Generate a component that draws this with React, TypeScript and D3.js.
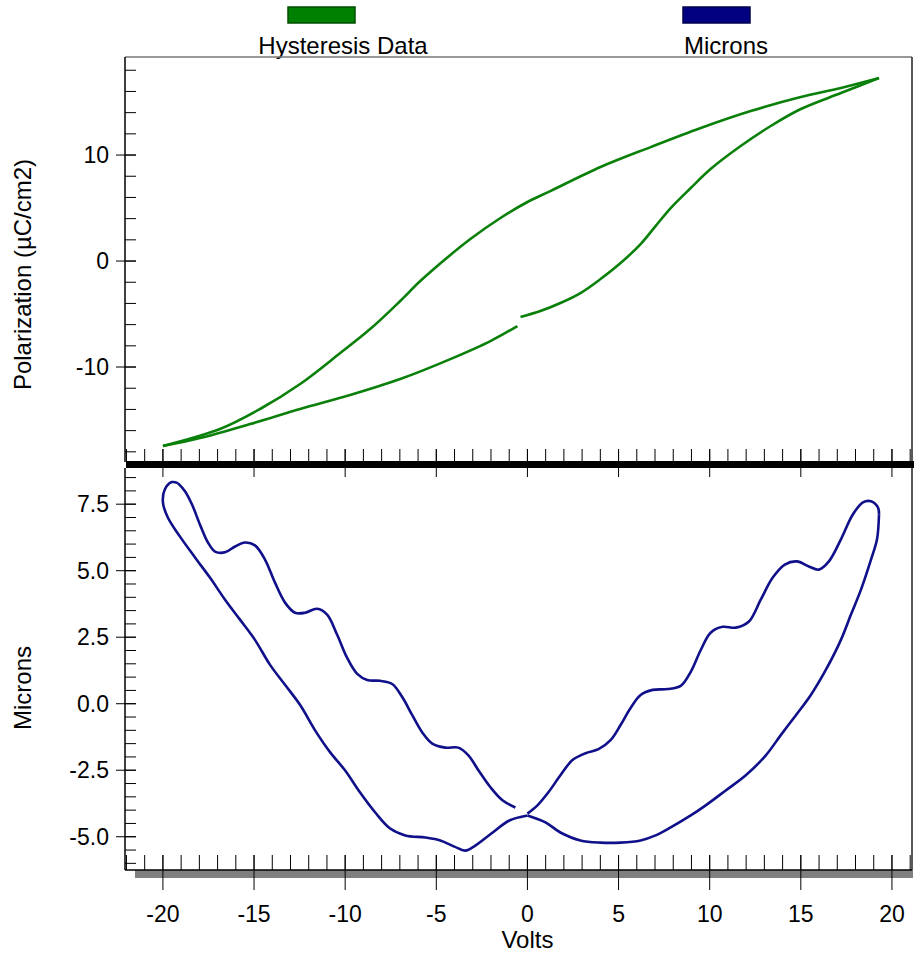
import React from 'react';
import * as d3 from 'd3';

// ---- Data (Volts, value) ----
const polRise: [number, number][] = [
  [-0.38, -5.28], [0.71, -4.72], [1.81, -3.96], [2.91, -3.02], [4.01, -1.7], [5.11, -0.19],
  [6.21, 1.6], [7.03, 3.3], [7.86, 5.0], [8.96, 6.89], [10.05, 8.68], [11.7, 10.85],
  [13.35, 12.74], [15.0, 14.34], [17.2, 15.85], [19.29, 17.26],
];
const polFall: [number, number][] = [
  [19.29, 17.26], [17.2, 16.32], [15.0, 15.47], [12.25, 14.15], [9.51, 12.55], [6.76, 10.75],
  [4.01, 8.87], [1.26, 6.6], [0, 5.57], [-1.48, 4.06], [-3.13, 2.08], [-4.23, 0.57],
  [-5.88, -1.89], [-6.98, -3.77], [-8.63, -6.42], [-10.27, -8.68], [-12.47, -11.6],
  [-14.67, -13.96], [-16.87, -15.85], [-20.0, -17.45],
];
const polReturn: [number, number][] = [
  [-20.0, -17.45], [-17.97, -16.7], [-15.22, -15.38], [-12.47, -13.96], [-9.73, -12.64],
  [-6.98, -11.13], [-4.23, -9.25], [-2.03, -7.55], [-0.55, -6.13],
];

const micRise: [number, number][] = [
  [0, -4.13], [0.55, -3.82], [1.15, -3.33], [1.81, -2.69], [2.47, -2.12], [3.19, -1.86],
  [3.9, -1.71], [4.56, -1.37], [5.11, -0.8], [5.66, -0.16], [6.21, 0.33], [6.87, 0.52],
  [7.69, 0.55], [8.41, 0.67], [8.96, 1.2], [9.51, 2.02], [10.05, 2.67], [10.71, 2.89],
  [11.43, 2.86], [12.14, 3.08], [12.8, 3.91], [13.46, 4.74], [14.12, 5.23], [14.78, 5.35],
  [15.44, 5.16], [15.99, 5.04], [16.54, 5.35], [17.2, 6.18], [17.86, 7.12], [18.41, 7.57],
  [18.85, 7.61], [19.23, 7.38], [19.29, 7.12],
];
const micFallRight: [number, number][] = [
  [19.29, 7.12], [19.18, 6.18], [18.85, 5.42], [18.3, 4.29], [17.75, 3.35], [17.2, 2.4],
  [16.37, 1.27], [15.55, 0.33], [14.73, -0.43], [13.9, -1.18], [13.08, -1.94], [11.98, -2.69],
  [10.88, -3.26], [9.78, -3.82], [8.96, -4.2], [7.86, -4.65], [7.03, -4.95], [6.21, -5.14],
  [5.11, -5.22], [4.01, -5.22], [2.91, -5.14], [1.81, -4.84], [0.99, -4.46], [0, -4.2],
];
const micFallLeft: [number, number][] = [
  [0, -4.2], [-0.99, -4.39], [-1.98, -4.88], [-2.86, -5.33], [-3.41, -5.52], [-4.01, -5.37],
  [-4.78, -5.14], [-5.6, -5.03], [-6.7, -4.95], [-7.53, -4.69], [-8.35, -4.09], [-9.18, -3.34],
  [-10.0, -2.51], [-10.82, -1.83], [-11.65, -1.0], [-12.47, -0.05], [-13.3, 0.71], [-14.12, 1.46],
  [-14.95, 2.4], [-15.77, 3.16], [-16.59, 3.91], [-17.42, 4.74], [-18.24, 5.5], [-19.07, 6.29],
  [-19.73, 7.0], [-20.0, 7.57], [-19.89, 8.06], [-19.51, 8.33], [-19.18, 8.29],
];
const micReturn: [number, number][] = [
  [-19.18, 8.29], [-18.79, 7.99], [-18.41, 7.5], [-17.97, 6.74], [-17.53, 6.06], [-17.14, 5.72],
  [-16.59, 5.69], [-16.04, 5.91], [-15.49, 6.06], [-14.95, 5.95], [-14.4, 5.42], [-13.85, 4.55],
  [-13.3, 3.8], [-12.75, 3.42], [-12.2, 3.42], [-11.54, 3.57], [-10.99, 3.35], [-10.44, 2.59],
  [-9.89, 1.72], [-9.34, 1.12], [-8.79, 0.89], [-8.08, 0.86], [-7.42, 0.74], [-6.87, 0.25],
  [-6.32, -0.43], [-5.77, -1.08], [-5.22, -1.5], [-4.51, -1.65], [-3.79, -1.65], [-3.24, -1.94],
  [-2.69, -2.5], [-2.03, -3.14], [-1.37, -3.63], [-0.66, -3.9],
];

const xMajor = [-20, -15, -10, -5, 0, 5, 10, 15, 20];
const xMinor = d3.range(-22, 22, 1);
const polMajor = [-10, 0, 10];
const polMinor = d3.range(-18, 20, 2);
const micMajor = [-5, -2.5, 0, 2.5, 5, 7.5];
const micMinor = d3.range(-6, 9, 0.5);

const legendItems = [
  { label: 'Hysteresis Data', color: '#008000', stroke: '#004d00' },
  { label: 'Microns', color: '#000080', stroke: '#00004d' },
];

const FONT = '"Liberation Sans", Arial, sans-serif';

export default function App() {
  const L = 125, R = 912;
  const topT = 57, topB = 462;
  const botT = 468, botB = 870;
  const x = d3.scaleLinear().domain([-22.08, 21.1]).range([L, R]);
  const yP = d3.scaleLinear().domain([-18.96, 19.25]).range([topB, topT]);
  const yM = d3.scaleLinear().domain([-6.25, 8.86]).range([botB, botT]);

  const lineP = d3.line<[number, number]>().x(d => x(d[0])).y(d => yP(d[1])).curve(d3.curveCatmullRom);
  const lineM = d3.line<[number, number]>().x(d => x(d[0])).y(d => yM(d[1])).curve(d3.curveCatmullRom);

  const legendX = [321, 716];
  const legendTextX = [343, 726];

  return (
    <svg width={915} height={955} style={{ position: 'absolute', left: 0, top: 0, background: '#fff' }} fontFamily={FONT}>
      {/* legend */}
      {legendItems.map((it, i) => (
        <g key={it.label}>
          <rect x={legendX[i] - 33} y={7} width={67} height={16} fill={it.color} stroke={it.stroke} strokeWidth={1.5} />
          <text x={legendTextX[i]} y={54} fontSize={24} textAnchor="middle" fill="#000">{it.label}</text>
        </g>
      ))}

      {/* top panel frame */}
      <line x1={L} x2={R} y1={topT} y2={topT} stroke="#777" strokeWidth={1.5} />
      <line x1={R} x2={R} y1={topT} y2={topB} stroke="#222" strokeWidth={1.5} />
      <line x1={L} x2={L} y1={topT} y2={topB} stroke="#000" strokeWidth={1.5} />
      {polMinor.map(v => (
        <line key={'pm' + v} x1={L} x2={L + 11} y1={yP(v)} y2={yP(v)} stroke="#000" strokeWidth={1} />
      ))}
      {polMajor.map(v => (
        <g key={'pM' + v}>
          <line x1={L - 9} x2={L + 11} y1={yP(v)} y2={yP(v)} stroke="#000" strokeWidth={1} />
          <text x={109} y={yP(v) + 8} fontSize={23} textAnchor="end">{v}</text>
        </g>
      ))}
      <text transform={`translate(31,${(topT + topB) / 2 + 15}) rotate(-90)`} fontSize={24} textAnchor="middle">Polarization (µC/cm2)</text>

      {/* separator axis */}
      {xMinor.map(v => (
        <line key={'sm' + v} x1={x(v)} x2={x(v)} y1={449} y2={462} stroke="#000" strokeWidth={1} />
      ))}
      {xMajor.map(v => (
        <line key={'sM' + v} x1={x(v)} x2={x(v)} y1={449} y2={477} stroke="#000" strokeWidth={1} />
      ))}
      <rect x={L + 1} y={461} width={R - L + 1} height={7} fill="#000" />

      {/* bottom panel frame */}
      <rect x={135} y={botB} width={R - 135 + 1} height={8} fill="#808080" />
      <line x1={R} x2={R} y1={botT} y2={botB} stroke="#222" strokeWidth={1.5} />
      <line x1={L} x2={L} y1={botT} y2={botB} stroke="#000" strokeWidth={1.5} />
      <line x1={L} x2={R} y1={botB} y2={botB} stroke="#000" strokeWidth={1.5} />
      {micMinor.map(v => (
        <line key={'mm' + v} x1={L} x2={L + 11} y1={yM(v)} y2={yM(v)} stroke="#000" strokeWidth={1} />
      ))}
      {micMajor.map(v => (
        <g key={'mM' + v}>
          <line x1={L - 9} x2={L + 11} y1={yM(v)} y2={yM(v)} stroke="#000" strokeWidth={1} />
          <text x={109} y={yM(v) + 8} fontSize={23} textAnchor="end">{d3.format('.1f')(v).replace('−', '-')}</text>
        </g>
      ))}
      <text transform={`translate(31,${688}) rotate(-90)`} fontSize={24} textAnchor="middle">Microns</text>

      {xMinor.map(v => (
        <line key={'bm' + v} x1={x(v)} x2={x(v)} y1={855} y2={botB} stroke="#000" strokeWidth={1} />
      ))}
      {xMajor.map(v => (
        <g key={'bM' + v}>
          <line x1={x(v)} x2={x(v)} y1={855} y2={890} stroke="#000" strokeWidth={1} />
          <text x={x(v)} y={922} fontSize={23} textAnchor="middle">{v}</text>
        </g>
      ))}
      <text x={x(0)} y={948} fontSize={24} textAnchor="middle">Volts</text>

      {/* data */}
      {[polRise, polFall, polReturn].map((d, i) => (
        <path key={'p' + i} d={lineP(d) || ''} fill="none" stroke="#0a800a" strokeWidth={2.6} strokeLinejoin="round" />
      ))}
      {[micRise, micFallRight, micFallLeft, micReturn].map((d, i) => (
        <path key={'m' + i} d={lineM(d) || ''} fill="none" stroke="#10108a" strokeWidth={2.6} strokeLinejoin="round" />
      ))}
    </svg>
  );
}
